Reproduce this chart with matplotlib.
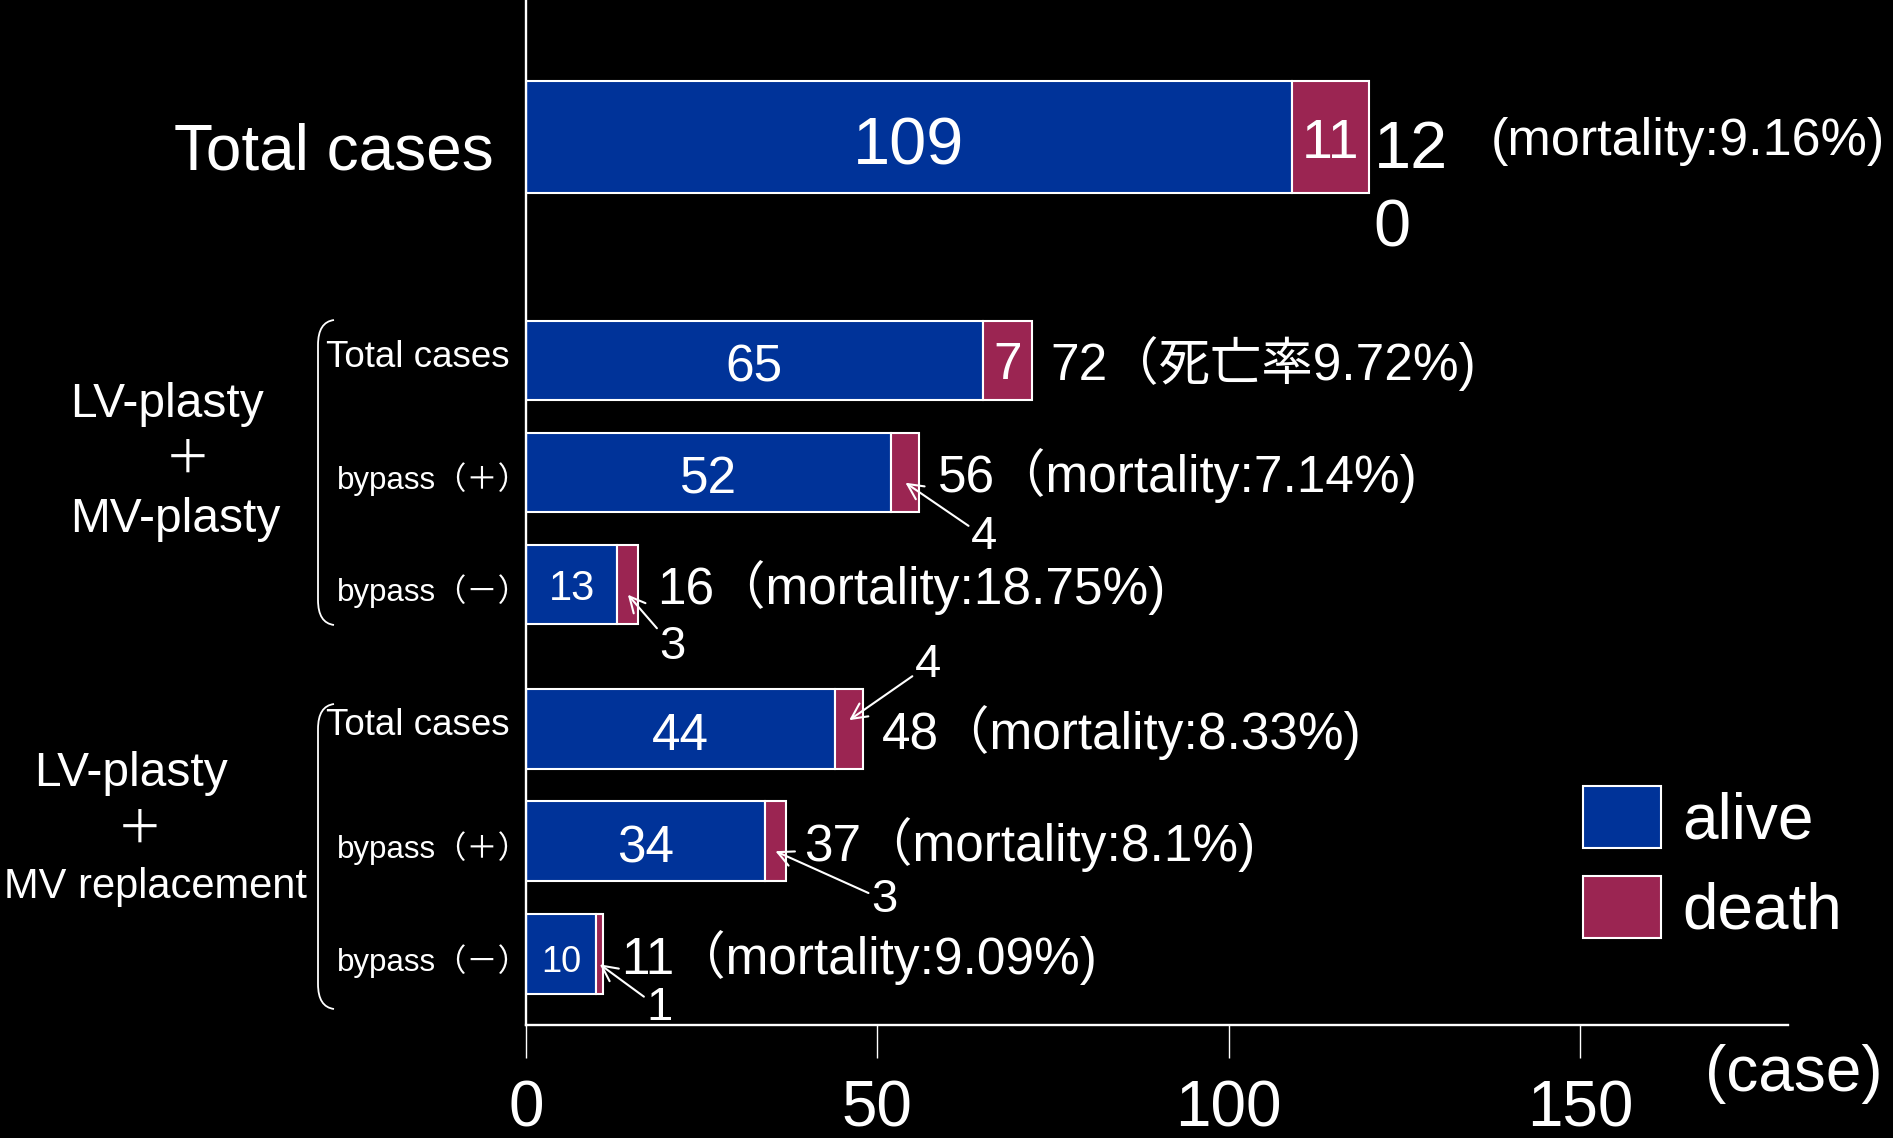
import matplotlib.pyplot as plt
from matplotlib.patches import PathPatch
from matplotlib.path import Path

plt.rcParams['font.family'] = ['Liberation Sans', 'Noto Sans CJK JP']

# ── data ──────────────────────────────────────────────────────────────
rows = ['Total cases', 'Total cases', 'bypass（＋）', 'bypass（－）',
        'Total cases', 'bypass（＋）', 'bypass（－）']
alive = [109, 65, 52, 13, 44, 34, 10]
death = [11, 7, 4, 3, 4, 3, 1]
mortality = ['9.16', '9.72', '7.14', '18.75', '8.33', '8.1', '9.09']
rate_word = ['mortality:', '死亡率', 'mortality:', 'mortality:',
             'mortality:', 'mortality:', 'mortality:']
groups = [['LV-plasty', '＋', 'MV-plasty'],
          ['LV-plasty', '＋', 'MV replacement']]
xticks = [0, 50, 100, 150]
series = ['alive', 'death']

# ── layout / style ────────────────────────────────────────────────────
W, H = 1893, 1138
BLUE = '#003399'
RED = '#9b2552'
ypos = [1.22, 3.22, 4.22, 5.22, 6.51, 7.51, 8.52]
heights = [1.0, 0.71, 0.71, 0.71, 0.71, 0.71, 0.71]
in_fs = [48, 37, 37, 30, 37, 37, 26]
in_dy = [0.1, 0.07, 0.07, 0.04, 0.07, 0.07, 0.07]
death_fs = [40, 37, 0, 0, 0, 0, 0]
arrow_off = {2: (79, -54), 3: (45, -52), 4: (79, 55), 5: (109, -49), 6: (60, -44)}


def fx(x):
    return x / W


def fy(y):
    return 1 - y / H


fig = plt.figure(figsize=(W / 100, H / 100), dpi=100, facecolor='black')
ax = fig.add_axes([fx(526), fy(1025), 1262 / W, 1025 / H])
ax.set_facecolor('black')
ax.set_xlim(0, 179.6)
ax.set_ylim(1025 / 112, 0)

bars_a = ax.barh(ypos, alive, height=heights, color=BLUE, edgecolor='white',
                 linewidth=1.5, label=series[0])
bars_d = ax.barh(ypos, death, left=alive, height=heights, color=RED,
                 edgecolor='white', linewidth=1.5, label=series[1])

for s in ['top', 'right']:
    ax.spines[s].set_visible(False)
for s in ['left', 'bottom']:
    ax.spines[s].set_color('white')
    ax.spines[s].set_linewidth(1.7)
ax.set_yticks([])
ax.set_xticks(xticks)
ax.tick_params(axis='x', colors='white', length=24, width=1, labelsize=46, pad=15)

# values inside / beside the bars
for i, (y, a, d) in enumerate(zip(ypos, alive, death)):
    tot = a + d
    ax.text(a / 2, y + in_dy[i], str(a), color='white', fontsize=in_fs[i],
            ha='center', va='center')
    if d >= 5:
        ax.text(a + d / 2, y + in_dy[i] - 0.03, str(d), color='white',
                fontsize=death_fs[i], ha='center', va='center')
    else:
        off = arrow_off[i]
        dy = 0.09 if off[1] < 0 else -0.08
        ax.annotate(str(d), xy=(a + d / 2, y + dy), xytext=off,
                    textcoords='offset pixels', ha='center', va='center',
                    fontsize=34, color='white',
                    arrowprops=dict(arrowstyle='->', color='white', lw=1.5,
                                    shrinkA=0, shrinkB=0, mutation_scale=28))
    if i == 0:
        s = str(tot)
        ax.text(tot + 0.6, 1.07, s[:2] + '\n' + s[2:], color='white',
                fontsize=48, ha='left', va='top', linespacing=1.34)
        ax.text(137.3, 1.26, f'({rate_word[i]}{mortality[i]}%)', color='white',
                fontsize=37.5, ha='left', va='center')
    else:
        ax.text(tot + 2.6, y + 0.03, f'{tot}（{rate_word[i]}{mortality[i]}%)',
                color='white', fontsize=37, ha='left', va='center')

# row labels
ytr = ax.get_yaxis_transform()
ax.text((494 - 526) / 1262, ypos[0] + 0.14, rows[0], transform=ytr,
        color='white', fontsize=46, ha='right', va='center')
for i in range(1, len(rows)):
    if rows[i].startswith('Total'):
        ax.text((326 - 526) / 1262, ypos[i] - 0.03, rows[i], transform=ytr,
                color='white', fontsize=26.5, ha='left', va='center')
    else:
        ax.text((337 - 526) / 1262, ypos[i] + 0.06, rows[i], transform=ytr,
                color='white', fontsize=22.5, ha='left', va='center')

# group labels
g1, g2 = groups
fig.text(fx(70), fy(405), g1[0], color='white', fontsize=34.5, ha='left', va='center')
fig.text(fx(188), fy(461), g1[1], color='white', fontsize=33, ha='center', va='center')
fig.text(fx(70), fy(519), g1[2], color='white', fontsize=34.5, ha='left', va='center')
fig.text(fx(131), fy(774), g2[0], color='white', fontsize=34.5, ha='center', va='center')
fig.text(fx(140), fy(831), g2[1], color='white', fontsize=33, ha='center', va='center')
fig.text(fx(307), fy(887), g2[2], color='white', fontsize=30, ha='right', va='center')


def brace(top, bottom, xl=318, xr=334):
    pts = [(xr, top), (xl, top + 2), (xl, top + 25), (xl, bottom - 25),
           (xl, bottom - 2), (xr, bottom)]
    codes = [Path.MOVETO, Path.CURVE3, Path.CURVE3, Path.LINETO,
             Path.CURVE3, Path.CURVE3]
    path = Path([(fx(x), fy(y)) for x, y in pts], codes)
    fig.add_artist(PathPatch(path, transform=fig.transFigure, fill=False,
                             edgecolor='white', lw=1.3))


brace(320, 625)
brace(704, 1009)

fig.text(fx(1705), fy(1074), '(case)', color='white', fontsize=46,
         ha='left', va='center')

leg = ax.legend(handles=[bars_a, bars_d], labels=series, loc='upper left',
                bbox_to_anchor=(fx(1583), fy(786)), bbox_transform=fig.transFigure,
                frameon=False, fontsize=46, handlelength=1.22, handleheight=1.12,
                handletextpad=0.33, labelspacing=0.38, borderpad=0, borderaxespad=0)
for t in leg.get_texts():
    t.set_color('white')

fig.savefig('out.png', dpi=100, facecolor='black')
